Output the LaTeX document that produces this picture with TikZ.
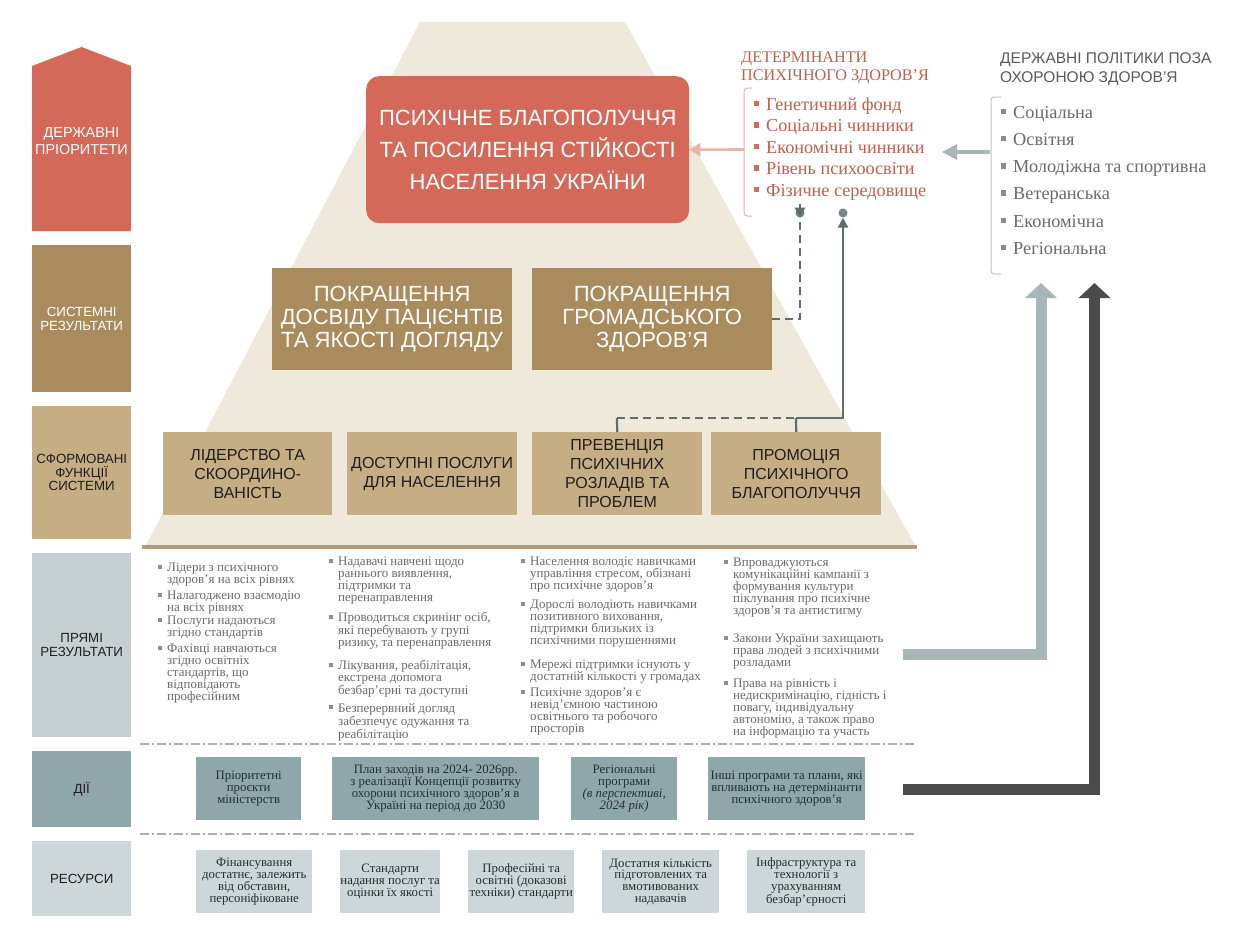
\documentclass[tikz,border=0pt]{standalone}
\usepackage{fontspec}
\setmainfont{Liberation Serif}
\setsansfont{Liberation Sans}
\usetikzlibrary{arrows.meta}
\definecolor{cRed}{HTML}{D4695A}
\definecolor{cBrown}{HTML}{A98B5E}
\definecolor{cTan}{HTML}{C5AD84}
\definecolor{cBeige}{HTML}{EFE9DB}
\definecolor{cLine}{HTML}{B59B72}
\definecolor{cLab}{HTML}{C6D0D2}
\definecolor{cAct}{HTML}{8FA6AB}
\definecolor{cRes}{HTML}{CDD6D8}
\definecolor{cInk}{HTML}{1F1F1F}
\definecolor{cInkB}{HTML}{26302F}
\definecolor{cGreyTxt}{HTML}{6A6A6A}
\definecolor{cBulG}{HTML}{8C8C8C}
\definecolor{cDetT}{HTML}{C25E4D}
\definecolor{cDetB}{HTML}{D46A5A}
\definecolor{cDetBr}{HTML}{E5B1A6}
\definecolor{cPinkA}{HTML}{E9B3A8}
\definecolor{cPolT}{HTML}{5A5A5A}
\definecolor{cPolI}{HTML}{6A6A6A}
\definecolor{cPolBr}{HTML}{BFC5C7}
\definecolor{cLightA}{HTML}{A8B6B8}
\definecolor{cDarkA}{HTML}{4B4B4B}
\definecolor{cConn}{HTML}{5E6D6F}
\definecolor{cDot}{HTML}{738688}
\definecolor{cSep}{HTML}{A7AFB1}
\newcommand\bul[1]{\llap{\textcolor{#1}{\rule[0.22em]{0.3em}{0.3em}}\hspace{0.38em}}}
\tikzset{
  lab/.style={inner sep=0, align=center, anchor=north west, minimum width=99, font=\sffamily\fontsize{13.3}{13.5}\selectfont},
  sysbox/.style={fill=cBrown, text=white, inner sep=0, align=center, anchor=north west, minimum width=240, minimum height=102, font=\sffamily\fontsize{22}{23}\selectfont},
  funbox/.style={fill=cTan, text=cInk, inner sep=0, align=center, anchor=north west, minimum height=83, font=\sffamily\fontsize{16}{19}\selectfont},
  actbox/.style={fill=cAct, text=cInkB, inner sep=0, align=center, anchor=north west, minimum height=63, font=\fontsize{12.8}{11.8}\selectfont},
  resbox/.style={fill=cRes, text=cInkB, inner sep=0, align=center, anchor=north west, minimum height=63, font=\fontsize{12.8}{11.8}\selectfont},
  item/.style={anchor=north west, inner sep=0, align=left, text=cGreyTxt, font=\fontsize{13}{12}\selectfont},
  conn/.style={draw=cConn, line width=2.2pt},
  dashconn/.style={conn, dash pattern=on 8pt off 5pt},
  tiptri/.style={-{Triangle[width=10pt,length=10pt]}},
  dotnode/.style={circle, fill=cDot, minimum size=9pt, inner sep=0},
  sepline/.style={draw=cSep, line width=1.2pt, dash pattern=on 9pt off 3pt on 2pt off 3pt},
  bigarrow/.style={line width=11pt, line join=miter, -{Triangle[width=31pt,length=15pt]}},
}
\begin{document}
\begin{tikzpicture}[x=1pt,y=-1pt]
\useasboundingbox[fill=white] (0,0) rectangle (1237,934);

% pyramid
\fill[cBeige] (420,22) -- (625,22) -- (916,547) -- (145,547) -- cycle;
\draw[cLine, line width=3.5pt] (142,547) -- (917,547);

% left labels
\fill[cRed] (32,66) -- (81.5,47) -- (131,66) -- (131,231) -- (32,231) -- cycle;
\node[inner sep=0, align=center, text=white, font=\sffamily\fontsize{14.4}{17}\selectfont] (lp) at (81.5,141) {ДЕРЖАВНІ\\ПРІОРИТЕТИ};
\node[lab, fill=cBrown, text=white, minimum height=147] (ls) at (32,245) {СИСТЕМНІ\\РЕЗУЛЬТАТИ};
\node[lab, fill=cTan, text=cInk, minimum height=133] (lf) at (32,406) {СФОРМОВАНІ\\ФУНКЦІЇ\\СИСТЕМИ};
\node[lab, fill=cLab, text=cInk, minimum height=184] (lr) at (32,553) {ПРЯМІ\\РЕЗУЛЬТАТИ};
\node[lab, fill=cAct, text=cInk, minimum height=76] (la) at (32,751) {ДІЇ};
\node[lab, fill=cRes, text=cInk, minimum height=75] (lres) at (32,841) {РЕСУРСИ};

% goal
\node[fill=cRed, rounded corners=13, minimum width=323, minimum height=147, anchor=north west, text=white,
  font=\sffamily\fontsize{22}{32}\selectfont, align=center, inner sep=0] (goal) at (366,76)
  {ПСИХІЧНЕ БЛАГОПОЛУЧЧЯ\\ТА ПОСИЛЕННЯ СТІЙКОСТІ\\НАСЕЛЕННЯ УКРАЇНИ};

% system results
\node[sysbox] (s1) at (272,268) {ПОКРАЩЕННЯ\\ДОСВІДУ ПАЦІЄНТІВ\\ТА ЯКОСТІ ДОГЛЯДУ};
\node[sysbox] (s2) at (532,268) {ПОКРАЩЕННЯ\\ГРОМАДСЬКОГО\\ЗДОРОВ’Я};

% functions
\node[funbox, minimum width=169] (f1) at (163,432) {ЛІДЕРСТВО ТА\\СКООРДИНО-\\ВАНІСТЬ};
\node[funbox, minimum width=170] (f2) at (347,432) {ДОСТУПНІ ПОСЛУГИ\\ДЛЯ НАСЕЛЕННЯ};
\node[funbox, minimum width=170] (f3) at (532,432) {ПРЕВЕНЦІЯ\\ПСИХІЧНИХ\\РОЗЛАДІВ ТА\\ПРОБЛЕМ};
\node[funbox, minimum width=170] (f4) at (711,432) {ПРОМОЦІЯ\\ПСИХІЧНОГО\\БЛАГОПОЛУЧЧЯ};

% determinants
\node[anchor=north west, inner sep=0, align=left, text=cDetT, font=\fontsize{16.2}{17.5}\selectfont] (dett) at (741,52) {ДЕТЕРМІНАНТИ\\ПСИХІЧНОГО ЗДОРОВ’Я};
\node[anchor=north west, inner sep=0, align=left, text=cDetT, font=\fontsize{18.2}{21.5}\selectfont] (detl) at (766,97.5)
  {\bul{cDetB}Генетичний фонд\\\bul{cDetB}Соціальні чинники\\\bul{cDetB}Економічні чинники\\\bul{cDetB}Рівень психоосвіти\\\bul{cDetB}Фізичне середовище};
\draw[cDetBr, line width=1pt, rounded corners=3] (752,88) -- (744,88) -- (744,216) -- (752,216);

% policies
\node[anchor=north west, inner sep=0, align=left, text=cPolT, font=\sffamily\fontsize{15.5}{19}\selectfont] (polt) at (1000,52) {ДЕРЖАВНІ ПОЛІТИКИ ПОЗА\\ОХОРОНОЮ ЗДОРОВ’Я};
\node[anchor=north west, inner sep=0, align=left, text=cPolI, font=\fontsize{18.3}{27.2}\selectfont] (poll) at (1013,106)
  {\bul{cBulG}Соціальна\\\bul{cBulG}Освітня\\\bul{cBulG}Молодіжна та спортивна\\\bul{cBulG}Ветеранська\\\bul{cBulG}Економічна\\\bul{cBulG}Регіональна};
\draw[cPolBr, line width=1pt, rounded corners=3] (1001,97) -- (991,97) -- (991,274) -- (1001,274);

% arrows to goal and determinants
\coordinate (detbr) at (744,149.5);
\draw[cPinkA, line width=2.6pt, -{Triangle[width=13pt,length=11pt]}] (detbr) -- (goal.east);
\coordinate (polbr) at (990,152);
\coordinate (detR) at (942,152);
\draw[cLightA, line width=3.5pt, -{Triangle[width=15pt,length=15pt]}] (polbr) -- (detR);

% connectors from system to determinants
\node[dotnode] (dA) at (800,213) {};
\node[dotnode] (dB) at (843,213) {};
\draw[dashconn] (s2.east) -| ([yshift=14]dA.south);
\draw[conn, -{Triangle[width=10pt,length=10pt]}, draw=cConn, fill=cConn] ([yshift=14]dA.south) -- (dA.south);
\coordinate (j0) at (617,418);
\coordinate (j) at (796,418);
\draw[conn] (f3.north) -- (j0);
\draw[dashconn] (j0) -- (j);
\draw[conn] (j) -- (f4.north);
\draw[conn, tiptri] (j) -| (dB.south);

% direct results column 1
\node[item] (p11) at (167,563) {\bul{cBulG}Лідери з психічного\\здоров’я на всіх рівнях};
\node[item] (p12) at (167,591) {\bul{cBulG}Налагоджено взаємодію\\на всіх рівнях};
\node[item] (p13) at (167,616) {\bul{cBulG}Послуги надаються\\згідно стандартів};
\node[item] (p14) at (167,644) {\bul{cBulG}Фахівці навчаються\\згідно освітніх\\стандартів, що\\відповідають\\професійним};
% column 2
\node[item] (p21) at (338,557) {\bul{cBulG}Надавачі навчені щодо\\раннього виявлення,\\підтримки та\\перенаправлення};
\node[item] (p22) at (338,612) {\bul{cBulG}Проводиться скринінг осіб,\\які перебувають у групі\\ризику, та перенаправлення};
\node[item] (p23) at (338,660) {\bul{cBulG}Лікування, реабілітація,\\екстрена допомога\\безбар’єрні та доступні};
\node[item] (p24) at (338,703) {\bul{cBulG}Безперервний догляд\\забезпечує одужання та\\реабілітацію};
% column 3
\node[item] (p31) at (530,557) {\bul{cBulG}Населення володіє навичками\\управління стресом, обізнані\\про психічне здоров’я};
\node[item] (p32) at (530,600) {\bul{cBulG}Дорослі володіють навичками\\позитивного виховання,\\підтримки близьких із\\психічними порушеннями};
\node[item] (p33) at (530,660) {\bul{cBulG}Мережі підтримки існують у\\достатній кількості у громадах};
\node[item] (p34) at (530,688) {\bul{cBulG}Психічне здоров’я є\\невід’ємною частиною\\освітнього та робочого\\просторів};
% column 4
\node[item] (p41) at (733,558) {\bul{cBulG}Впроваджуються\\комунікаційні кампанії з\\формування культури\\піклування про психічне\\здоров’я та антистигму};
\node[item] (p42) at (733,634) {\bul{cBulG}Закони України захищають\\права людей з психічними\\розладами};
\node[item] (p43) at (733,679) {\bul{cBulG}Права на рівність і\\недискримінацію, гідність і\\повагу, індивідуальну\\автономію, а також право\\на інформацію та участь};

% separators
\draw[sepline] (140,744) -- (915,744);
\draw[sepline] (140,834) -- (915,834);

% actions
\node[actbox, minimum width=105] (a1) at (196,757) {Пріоритетні\\проєкти\\міністерств};
\node[actbox, minimum width=207] (a2) at (332,757) {План заходів на 2024- 2026рр.\\з реалізації Концепції розвитку\\охорони психічного здоров’я в\\Україні на період до 2030};
\node[actbox, minimum width=106] (a3) at (571,757) {Регіональні\\програми\\\textit{(в перспективі,}\\\textit{2024 рік)}};
\node[actbox, minimum width=157] (a4) at (708,757) {Інші програми та плани, які\\впливають на детермінанти\\психічного здоров’я};

% resources
\node[resbox, minimum width=116] (r1) at (196,850) {Фінансування\\достатнє, залежить\\від обставин,\\персоніфіковане};
\node[resbox, minimum width=100] (r2) at (340,850) {Стандарти\\надання послуг та\\оцінки їх якості};
\node[resbox, minimum width=106] (r3) at (468,850) {Професійні та\\освітні (доказові\\техніки) стандарти};
\node[resbox, minimum width=117] (r4) at (602,850) {Достатня кількість\\підготовлених та\\вмотивованих\\надавачів};
\node[resbox, minimum width=118] (r5) at (747,850) {Інфраструктура та\\технології з\\урахуванням\\безбар’єрності};

% big arrows
\coordinate (g1) at (903,654.5);
\coordinate (g2) at (1041,283);
\draw[cLightA, bigarrow] (g1) -| (g2);
\coordinate (h1) at (903,789);
\coordinate (h2) at (1094.5,283);
\draw[cDarkA, bigarrow] (h1) -| (h2);
\end{tikzpicture}
\end{document}
